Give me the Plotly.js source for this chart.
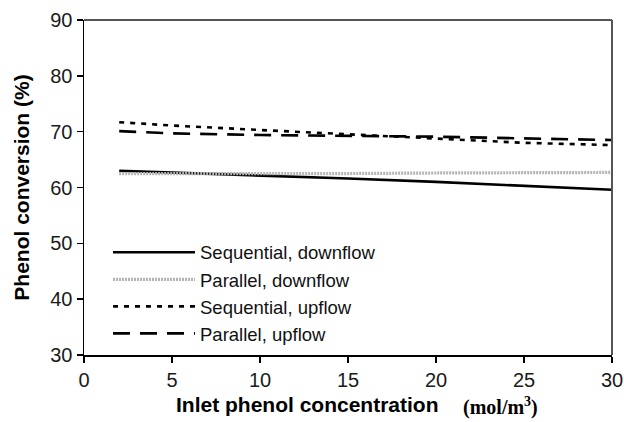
<!DOCTYPE html>
<html>
<head>
<meta charset="utf-8">
<script src="https://cdn.plot.ly/plotly-3.0.1.min.js"></script>
<style>
  html, body { margin: 0; padding: 0; background: #fff; }
  #chart { width: 624px; height: 422px; }
</style>
</head>
<body>
<div id="chart"></div>
<script>
// Inlet phenol concentration (mol/m3)
const concentration = [2, 5, 10, 15, 20, 25, 30];

// Phenol conversion (%) for each reactor configuration
const seqDownflow = [63.0, 62.7, 62.2, 61.6, 61.0, 60.3, 59.6];
const parDownflow = [62.5, 62.5, 62.4, 62.5, 62.6, 62.7, 62.7];
const seqUpflow   = [71.7, 71.1, 70.3, 69.5, 68.7, 68.0, 67.6];
const parUpflow   = [70.1, 69.7, 69.4, 69.3, 69.1, 68.8, 68.5];

const seriesNames = ['Sequential, downflow', 'Parallel, downflow', 'Sequential, upflow', 'Parallel, upflow'];

const xTicks = [0, 5, 10, 15, 20, 25, 30];
const yTicks = [30, 40, 50, 60, 70, 80, 90];

const xTitle = 'Inlet phenol concentration';
const xUnit = '(mol/m<sup>3</sup>)';
const yTitle = 'Phenol conversion (%)';

const traces = [
  { x: concentration, y: seqDownflow, name: seriesNames[0], mode: 'lines',
    line: { color: '#000', width: 2.6 } },
  { x: concentration, y: parDownflow, name: seriesNames[1], mode: 'lines',
    line: { color: '#b4b4b4', width: 3.2, dash: '2px,1px' } },
  { x: concentration, y: seqUpflow, name: seriesNames[2], mode: 'lines',
    line: { color: '#000', width: 2.6, dash: '5px,6px' } },
  { x: concentration, y: parUpflow, name: seriesNames[3], mode: 'lines',
    line: { color: '#000', width: 2.6, dash: '17px,10px' } }
];

const sans = 'Liberation Sans, Arial, sans-serif';
const serif = 'Liberation Serif, Times New Roman, serif';
const tickFont = { family: sans, size: 20, color: '#1a1a1a' };
const titleFont = { family: sans, size: 21, color: '#000', weight: 'bold' };

const layout = {
  width: 624,
  height: 422,
  margin: { l: 84, r: 12, t: 20, b: 67 },
  paper_bgcolor: '#fff',
  plot_bgcolor: '#fff',
  showlegend: true,
  legend: {
    x: 0.0455, y: 0.362, xanchor: 'left', yanchor: 'top',
    bgcolor: 'rgba(0,0,0,0)',
    font: { family: sans, size: 18.5, color: '#111' },
    itemwidth: 82,
    tracegroupgap: 0
  },
  xaxis: {
    range: [0, 30],
    tickvals: xTicks,
    ticktext: xTicks.map(String),
    ticks: 'outside', ticklen: 6, tickwidth: 1.5, tickcolor: '#000',
    showline: true, linecolor: '#000', linewidth: 1.5,
    showgrid: false, zeroline: false,
    tickfont: tickFont
  },
  yaxis: {
    range: [30, 90],
    tickvals: yTicks,
    ticktext: yTicks.map(String),
    ticks: 'outside', ticklen: 6, tickwidth: 1.5, tickcolor: '#000',
    showline: true, linecolor: '#000', linewidth: 1.5,
    showgrid: false, zeroline: false,
    tickfont: tickFont,
    title: { text: yTitle, font: titleFont, standoff: 15 }
  },
  annotations: [
    { text: xTitle, xref: 'paper', yref: 'paper', x: 0.17, y: -0.148,
      xanchor: 'left', yanchor: 'middle', showarrow: false, font: titleFont },
    { text: xUnit, xref: 'paper', yref: 'paper', x: 0.714, y: -0.153,
      xanchor: 'left', yanchor: 'middle', showarrow: false,
      font: { family: serif, size: 20, color: '#000', weight: 'bold' } }
  ],
  shapes: [
    { type: 'line', xref: 'paper', yref: 'paper', x0: 0, x1: 1, y0: 1, y1: 1,
      line: { color: '#555', width: 2 } },
    { type: 'line', xref: 'paper', yref: 'paper', x0: 1, x1: 1, y0: 0, y1: 1,
      line: { color: '#555', width: 2 } }
  ]
};

Plotly.newPlot('chart', traces, layout, { staticPlot: true, displayModeBar: false });
</script>
</body>
</html>
